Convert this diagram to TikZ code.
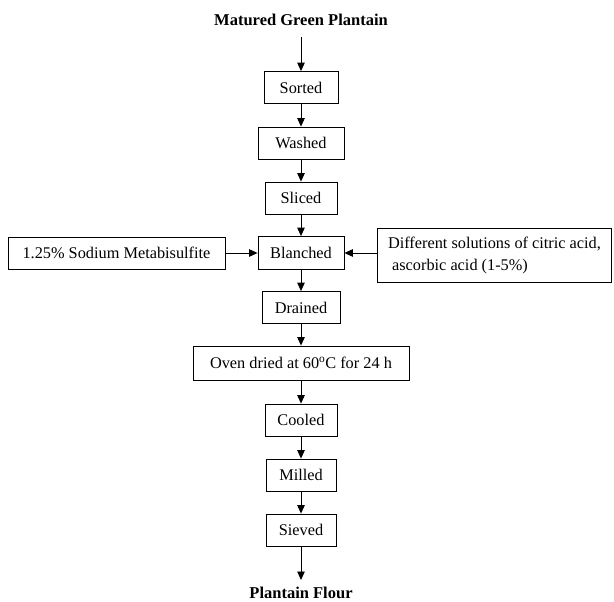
\documentclass[tikz,border=0pt]{standalone}
\usepackage{fontspec}
\setmainfont{Liberation Serif}
\usetikzlibrary{arrows.meta}
\begin{document}
\begin{tikzpicture}[x=1pt,y=-1pt,
  box/.style={draw,line width=0.8pt,minimum height=32pt,inner sep=0pt,font=\fontsize{16.3}{22}\selectfont},
  lbl/.style={font=\bfseries\fontsize{16.5}{18}\selectfont},
  arr/.style={-{Triangle[length=8.5pt,width=7.5pt]},line width=0.9pt}]
\useasboundingbox (0,0) rectangle (614,602);
\node[lbl] (top) at (301,20) {Matured Green Plantain};
\node[box,minimum width=74pt] (sorted) at (301,87.5) {Sorted};
\node[box,minimum width=86pt] (washed) at (301,143) {Washed};
\node[box,minimum width=72pt] (sliced) at (301,198) {Sliced};
\node[box,minimum width=86pt,minimum height=33pt] (blanched) at (301,253) {Blanched};
\node[box,minimum width=217pt] (sms) at (116.5,253) {1.25\% Sodium Metabisulfite};
\node[box,minimum width=234pt,minimum height=54pt,align=left] (acid) at (494.5,255) {Different solutions of citric acid,\\\ ascorbic acid (1-5\%)};
\node[box,minimum width=78pt] (drained) at (301,307.5) {Drained};
\node[box,minimum width=216pt,minimum height=34pt] (oven) at (301,363) {Oven dried at 60\textsuperscript{o}C for 24 h};
\node[box,minimum width=72pt] (cooled) at (301,420) {Cooled};
\node[box,minimum width=70pt] (milled) at (301,475) {Milled};
\node[box,minimum width=70pt] (sieved) at (301,530) {Sieved};
\node[lbl] (flour) at (301,593) {Plantain Flour};
\coordinate (s0) at (301,37);
\coordinate (e0) at (301,580);
\draw[arr] (s0) -- (sorted);
\draw[arr] (sorted) -- (washed);
\draw[arr] (washed) -- (sliced);
\draw[arr] (sliced) -- (blanched);
\draw[arr] (blanched) -- (drained);
\draw[arr] (drained) -- (oven);
\draw[arr] (oven) -- (cooled);
\draw[arr] (cooled) -- (milled);
\draw[arr] (milled) -- (sieved);
\draw[arr] (sieved) -- (e0);
\draw[arr] (sms) -- (blanched);
\draw[arr] (acid.west |- blanched) -- (blanched);
\end{tikzpicture}
\end{document}
